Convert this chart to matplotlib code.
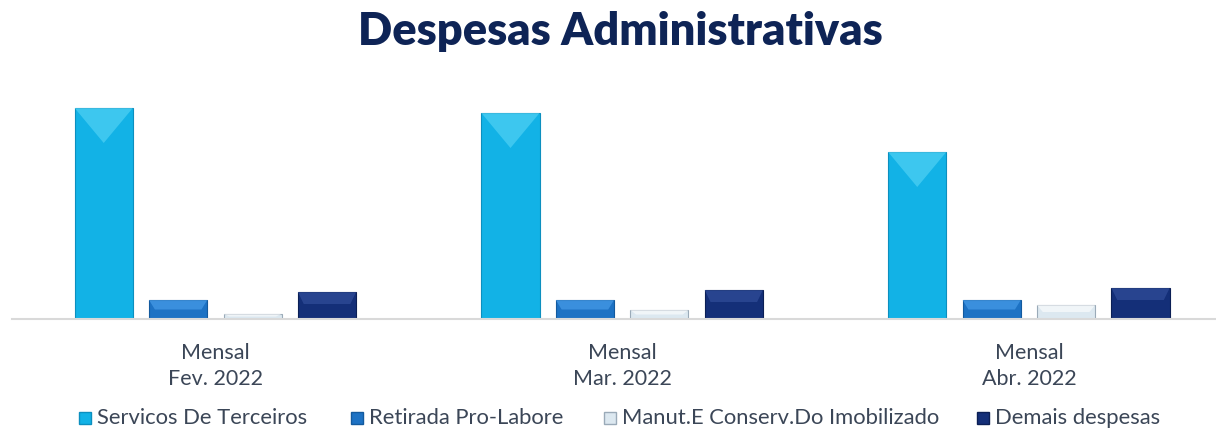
import matplotlib
matplotlib.use("Agg")
import matplotlib.pyplot as plt
from matplotlib.lines import Line2D
import numpy as np

plt.rcParams['font.family'] = ['Lato', 'DejaVu Sans']

title = "Despesas Administrativas"
categories = ["Mensal\nFev. 2022", "Mensal\nMar. 2022", "Mensal\nAbr. 2022"]
series_names = ["Servicos De Terceiros", "Retirada Pro-Labore",
                "Manut.E Conserv.Do Imobilizado", "Demais despesas"]
servicos = [211, 206, 167]
retirada = [19, 19, 19]
manut = [5, 9, 14]
demais = [27, 29, 31]
series_values = [servicos, retirada, manut, demais]

colors = ["#12B2E6", "#1D72C4", "#DCE8F0", "#142F78"]
edges = ["#0C8FBF", "#135A9E", "#9AAAB8", "#0B1F55"]
highlights = ["#5AD6F6", "#4FA3EE", "#FFFFFF", "#3653A0"]

W, H = 1216, 429
fig = plt.figure(figsize=(W / 100, H / 100), dpi=100)
ax = fig.add_axes([12/W, 1-319/H, 1-12/W, (319-90)/H])

x = np.arange(len(categories))
step = 0.183
width = 0.143
offsets = (np.arange(4) - 1.5) * step
for i, (name, vals) in enumerate(zip(series_names, series_values)):
    bars = ax.bar(x + offsets[i], vals, width, color=colors[i],
                  edgecolor=edges[i], linewidth=0.8, label=name, zorder=2)
    # bevel highlight on top
    for b in bars:
        bx, bw, bh = b.get_x(), b.get_width(), b.get_height()
        bev = min(bh * 0.5, 12)
        inset = bw * 0.1
        if bh > 40:
            poly = [(bx, bh), (bx + bw, bh), (bx + bw / 2, bh - 35)]
        else:
            poly = [(bx, bh), (bx + bw, bh), (bx + bw - inset, bh - bev), (bx + inset, bh - bev)]
        ax.add_patch(plt.Polygon(poly, closed=True, color=highlights[i], alpha=0.6, lw=0, zorder=3))

ax.set_xlim(-0.5, 2.46)
ax.set_ylim(0, 229)
for s in ["top", "right", "left"]:
    ax.spines[s].set_visible(False)
ax.spines["bottom"].set_color("#D9D9D9")
ax.spines["bottom"].set_linewidth(1.5)
ax.set_yticks([])
ax.set_xticks(x)
ax.set_xticklabels(categories, fontsize=15.5, color="#3B4657", linespacing=1.4)
ax.tick_params(axis="x", length=0, pad=17)

fig.text(0.51, 1 - 31/H, title, ha="center", va="center", fontsize=32.5,
         fontweight="heavy", color="#0E2456")

# legend entries (positions as in the reference layout)
legend_x = [80, 352, 605, 978]
legend_y = 1 - 418/H
for i, name in enumerate(series_names):
    mx = (legend_x[i] + 5) / W
    fig.add_artist(Line2D([mx], [legend_y], marker="s", linestyle="none", markersize=9,
                          markerfacecolor=colors[i], markeredgecolor=edges[i],
                          transform=fig.transFigure))
    fig.text((legend_x[i] + 17) / W, legend_y, name, ha="left", va="center",
             fontsize=15.8, color="#3B4657")

fig.savefig("out.png", dpi=100)
